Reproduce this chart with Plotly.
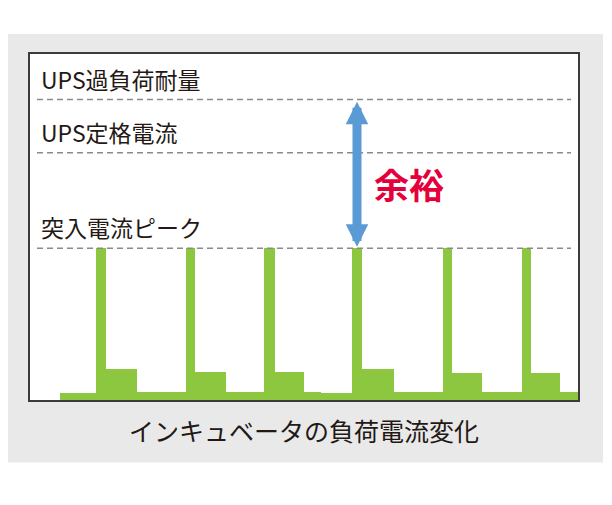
import plotly.graph_objects as go

# ---- data (time in arbitrary units, current in % of inrush peak) ----
segment_edges = [30, 66, 76, 107, 156, 165, 196, 234, 245, 274, 291, 322,
                 332, 364, 413, 422, 452, 492, 501, 530, 548]
segment_levels = [4.8, 100, 20.4, 5.1, 100, 18.3, 5.1, 100, 18.5, 5.1, 4.6,
                  100, 20.4, 5.1, 100, 18.1, 5.1, 100, 18.0, 5.1]

threshold_names = ["突入電流ピーク", "UPS定格電流", "UPS過負荷耐量"]
threshold_values = [100, 163, 198]

margin_label = "余裕"
chart_title = "インキュベータの負荷電流変化"

X_RANGE = [0, 548]
Y_RANGE = [0, 228]

FONT = "Noto Sans CJK JP"
GREEN = "#8dc63f"
BLUE = "#5b9bd5"
RED = "#e4003a"
TEXT = "#231815"

centers = [(segment_edges[i] + segment_edges[i + 1]) / 2 for i in range(len(segment_levels))]
widths = [segment_edges[i + 1] - segment_edges[i] for i in range(len(segment_levels))]

fig = go.Figure()
fig.add_trace(go.Bar(
    x=centers, y=segment_levels, width=widths,
    marker=dict(color=GREEN, line=dict(width=0)),
    hoverinfo="skip", showlegend=False,
))

shapes = [
    # grey panel
    dict(type="rect", xref="paper", yref="paper", x0=-0.042, x1=1.0456,
         y0=-0.1806, y1=1.0578, fillcolor="#e8e9e8", line=dict(width=0), layer="below"),
    # white plot area
    dict(type="rect", xref="paper", yref="paper", x0=0, x1=1, y0=0, y1=1,
         fillcolor="white", line=dict(width=0), layer="below"),
]
annotations = []
for name, val in zip(threshold_names, threshold_values):
    shapes.append(dict(type="line", xref="x", yref="y", x0=7, x1=541, y0=val, y1=val,
                       line=dict(color="#8a8a8a", width=1.5, dash="6px,4px"), layer="above"))
    annotations.append(dict(x=9, y=val, xref="x", yref="y", text=name, showarrow=False,
                            xanchor="left", yanchor="middle", yshift=21,
                            font=dict(family=FONT, size=23, color=TEXT)))

# double arrow between peak and overload tolerance, at the 4th peak
peak_idx = [i for i, v in enumerate(segment_levels) if v == max(segment_levels)]
arrow_x = centers[peak_idx[3]]
annotations.append(dict(
    x=arrow_x, y=threshold_values[2] - 1.5, ax=arrow_x, ay=threshold_values[0],
    xref="x", yref="y", axref="x", ayref="y", text="", showarrow=True,
    arrowside="end+start", arrowhead=2, startarrowhead=2,
    arrowsize=0.5, startarrowsize=0.5, arrowwidth=9, arrowcolor=BLUE,
    standoff=0, startstandoff=0,
))
annotations.append(dict(
    x=arrow_x, y=142.5, xref="x", yref="y", xshift=52, text=margin_label,
    showarrow=False, xanchor="center", yanchor="middle",
    font=dict(family=FONT, size=35, color=RED, weight="bold"),
))
annotations.append(dict(
    x=0.5, y=-0.0867, xref="paper", yref="paper", text=chart_title,
    showarrow=False, xanchor="center", yanchor="middle",
    font=dict(family=FONT, size=25, color=TEXT),
))

axis_common = dict(showgrid=False, zeroline=False, showticklabels=False, ticks="",
                   showline=True, mirror=True, linecolor="#3e3a39", linewidth=2,
                   fixedrange=True)
fig.update_layout(
    width=612, height=505,
    margin=dict(l=22, r=42, t=46, b=113),
    paper_bgcolor="white", plot_bgcolor="white",
    xaxis=dict(range=X_RANGE, **axis_common),
    yaxis=dict(range=Y_RANGE, **axis_common),
    shapes=shapes, annotations=annotations,
    bargap=0, showlegend=False,
)
fig.write_html("out.html")
